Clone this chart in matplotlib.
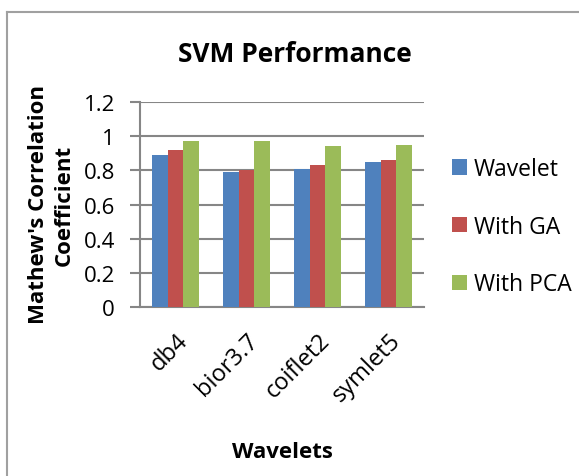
import numpy as np
import matplotlib.pyplot as plt
from matplotlib.lines import Line2D

plt.rcParams['font.family'] = ['Open Sans', 'DejaVu Sans']

wavelets = ["db4", "bior3.7", "coiflet2", "symlet5"]
series = ["Wavelet", "With GA", "With PCA"]
wavelet_vals = [0.89, 0.79, 0.81, 0.85]
ga_vals = [0.92, 0.80, 0.83, 0.86]
pca_vals = [0.97, 0.97, 0.94, 0.95]
colors = ["#4F81BD", "#C0504D", "#9BBB59"]
yticks = [0, 0.2, 0.4, 0.6, 0.8, 1, 1.2]
ytick_labels = ["0", "0.2", "0.4", "0.6", "0.8", "1", "1.2"]

fig = plt.figure(figsize=(5.79, 4.77), dpi=100)
ax = fig.add_axes([140 / 579, 1 - 308 / 477, 284 / 579, 205 / 477])

x = np.arange(len(wavelets))
w = 0.221
bars = []
for j, vals in enumerate([wavelet_vals, ga_vals, pca_vals]):
    b = ax.bar(x + (j - 1) * w, vals, width=w, color=colors[j], label=series[j], zorder=3)
    bars.append(b)

gray = "#868686"
ax.set_xlim(-0.5, 3.5)
ax.set_ylim(0, 1.2)
ax.set_yticks(yticks)
ax.set_yticklabels(ytick_labels, fontsize=16)
ax.yaxis.grid(True, color=gray, linewidth=1.5, zorder=0)
ax.tick_params(axis='y', length=7, width=1.5, color=gray, pad=11)
ax.tick_params(axis='x', length=0, pad=15)
ax.set_xticks(x)
ax.set_xticklabels(wavelets, fontsize=17, rotation=45, ha='right', rotation_mode='anchor')
for s in ['top', 'right']:
    ax.spines[s].set_visible(False)
for s in ['left', 'bottom']:
    ax.spines[s].set_color(gray)
    ax.spines[s].set_linewidth(1.5)

fig.text(295 / 579, 1 - 55 / 477, "SVM Performance", fontsize=19, fontweight='bold',
         ha='center', va='center')
fig.text(51 / 579, 1 - 205 / 477, "Mathew's Correlation\nCoefficient", fontsize=16,
         fontweight='bold', rotation=90, ha='center', va='center', multialignment='center',
         linespacing=1.3)
fig.text(282 / 579, 1 - 453 / 477, "Wavelets", fontsize=16, fontweight='bold',
         ha='center', va='center')

ax.legend(handles=bars, labels=series, loc='upper left', bbox_to_anchor=(452 / 579, 1 - 158 / 477),
          bbox_transform=fig.transFigure, frameon=False, fontsize=16.5, handlelength=0.65,
          handleheight=0.65, handletextpad=0.3, labelspacing=1.47, borderpad=0, borderaxespad=0)

# chart frame (left and top edges)
fig.add_artist(Line2D([7.5 / 579, 7.5 / 579], [0, 1 - 12.5 / 477], transform=fig.transFigure,
                      color="#A0A0A0", linewidth=1.5))
fig.add_artist(Line2D([7.5 / 579, 1], [1 - 12.5 / 477, 1 - 12.5 / 477], transform=fig.transFigure,
                      color="#A0A0A0", linewidth=1.5))

fig.savefig("out.png", dpi=100)
